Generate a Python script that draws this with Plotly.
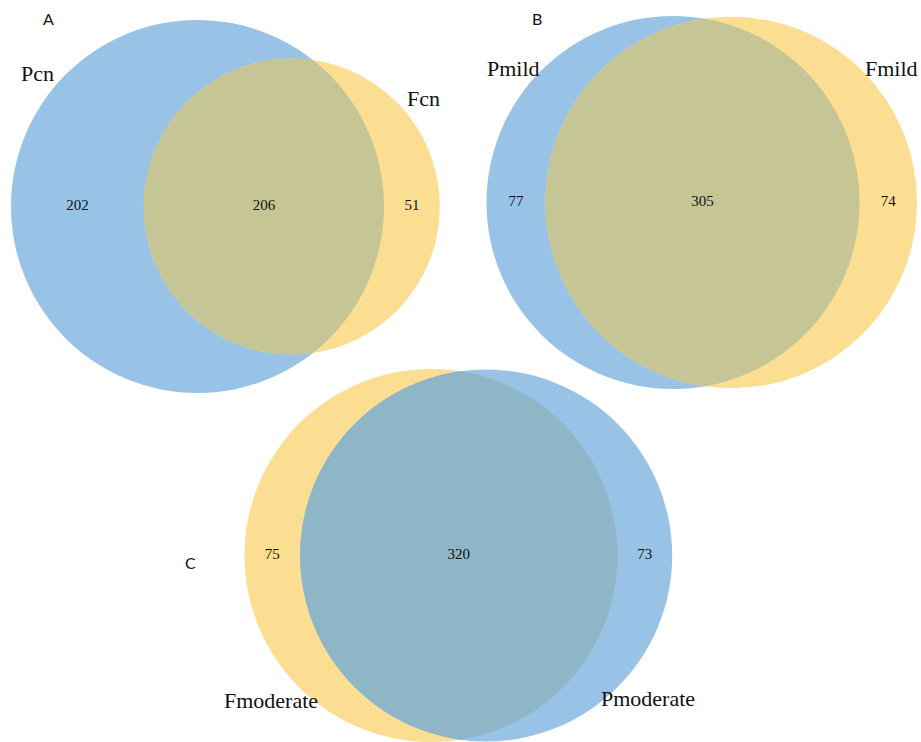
import numpy as np
import plotly.graph_objects as go

# ---- data: region counts for each two-set Venn diagram ----
# order: [left only, shared, right only]
names_a = ["Pcn", "Fcn"]
counts_a = [202, 206, 51]

names_b = ["Pmild", "Fmild"]
counts_b = [77, 305, 74]

names_c = ["Fmoderate", "Pmoderate"]
counts_c = [75, 320, 73]

panel_letters = ["A", "B", "C"]

# ---- styling / layout ----
W, H = 921, 742
R_MAX = 186.5  # pixel radius of the larger set in each panel
BLUE = "#98C3E6"
YELLOW = "#FCDE93"
OLIVE = "#C6C595"   # yellow drawn over blue
TEAL = "#8FB6C7"    # blue drawn over yellow

# per panel: centre of the left circle, colours (left, right, overlap),
# label anchors relative to the left circle centre, panel letter position
panel_layout = [
    dict(center=(197.5, 206.5), colors=(BLUE, YELLOW, OLIVE),
         name_pos=[(-160.5, -133), (225.5, -108)], letter_pos=(48, 18)),
    dict(center=(673.0, 202.5), colors=(BLUE, YELLOW, OLIVE),
         name_pos=[(-160, -134), (218.5, -134)], letter_pos=(537, 18)),
    dict(center=(431.0, 555.5), colors=(YELLOW, BLUE, TEAL),
         name_pos=[(-160, 145), (217, 143)], letter_pos=(190, 562)),
]


def lens_area(r1, r2, d):
    if d >= r1 + r2:
        return 0.0
    if d <= abs(r1 - r2):
        return np.pi * min(r1, r2) ** 2
    a1 = np.arccos((d * d + r1 * r1 - r2 * r2) / (2 * d * r1))
    a2 = np.arccos((d * d + r2 * r2 - r1 * r1) / (2 * d * r2))
    k = 0.5 * np.sqrt((-d + r1 + r2) * (d + r1 - r2) * (d - r1 + r2) * (d + r1 + r2))
    return r1 * r1 * a1 + r2 * r2 * a2 - k


def solve_distance(r1, r2, target):
    lo, hi = abs(r1 - r2), r1 + r2
    for _ in range(100):
        mid = 0.5 * (lo + hi)
        if lens_area(r1, r2, mid) > target:
            lo = mid
        else:
            hi = mid
    return 0.5 * (lo + hi)


fig = go.Figure()
shapes = []
annotations = []

serif = "Liberation Serif, Times New Roman, serif"

for counts, names, lay, letter in zip(
    [counts_a, counts_b, counts_c], [names_a, names_b, names_c], panel_layout, panel_letters
):
    left_only, shared, right_only = counts
    n1, n2 = left_only + shared, right_only + shared
    scale = R_MAX / np.sqrt(max(n1, n2))
    r1, r2 = scale * np.sqrt(n1), scale * np.sqrt(n2)
    # area of the lens in pixel units, proportional to the shared count
    target = np.pi * scale ** 2 * shared
    d = solve_distance(r1, r2, target)
    cx1, cy = lay["center"]
    cx2 = cx1 + d
    c1, c2, c12 = lay["colors"]

    for cx, r, col in [(cx1, r1, c1), (cx2, r2, c2)]:
        shapes.append(dict(type="circle", xref="x", yref="y",
                           x0=cx - r, x1=cx + r, y0=cy - r, y1=cy + r,
                           fillcolor=col, line=dict(width=0), layer="below"))

    # lens outline: arc of circle 1 inside circle 2, then arc of circle 2 inside circle 1
    a1 = np.arccos((d * d + r1 * r1 - r2 * r2) / (2 * d * r1))
    a2 = np.arccos((d * d + r2 * r2 - r1 * r1) / (2 * d * r2))
    t1 = np.linspace(-a1, a1, 240)
    t2 = np.linspace(np.pi - a2, np.pi + a2, 240)
    xs = np.concatenate([cx1 + r1 * np.cos(t1), cx2 + r2 * np.cos(t2)])
    ys = np.concatenate([cy + r1 * np.sin(t1), cy + r2 * np.sin(t2)])
    path = "M " + " L ".join(f"{x:.2f},{y:.2f}" for x, y in zip(xs, ys)) + " Z"
    shapes.append(dict(type="path", xref="x", yref="y", path=path,
                       fillcolor=c12, line=dict(width=0), layer="below"))

    # region counts sit midway across each region along the centre line
    x_left = 0.5 * ((cx1 - r1) + (cx2 - r2))
    x_mid = 0.5 * ((cx2 - r2) + (cx1 + r1))
    x_right = 0.5 * ((cx1 + r1) + (cx2 + r2))
    fig.add_trace(go.Scatter(
        x=[x_left, x_mid, x_right], y=[cy, cy, cy],
        mode="text", text=[str(v) for v in counts],
        textfont=dict(family=serif, size=15, color="#111111"),
        hoverinfo="skip", showlegend=False))

    for name, (dx, dy) in zip(names, lay["name_pos"]):
        annotations.append(dict(x=cx1 + dx, y=cy + dy, xref="x", yref="y",
                                text=name, showarrow=False,
                                font=dict(family=serif, size=22, color="#111111")))

    lx, ly = lay["letter_pos"]
    annotations.append(dict(x=lx, y=ly, xref="x", yref="y", text=letter,
                            showarrow=False,
                            font=dict(family="Lato, Open Sans, sans-serif", size=16, color="#111111")))

fig.update_layout(
    width=W, height=H, autosize=False,
    margin=dict(l=0, r=0, t=0, b=0),
    paper_bgcolor="white", plot_bgcolor="white",
    shapes=shapes, annotations=annotations,
    xaxis=dict(range=[0, W], visible=False, fixedrange=True),
    yaxis=dict(range=[H, 0], visible=False, fixedrange=True),
    showlegend=False,
)

fig.write_html("out.html", config={"displayModeBar": False})
